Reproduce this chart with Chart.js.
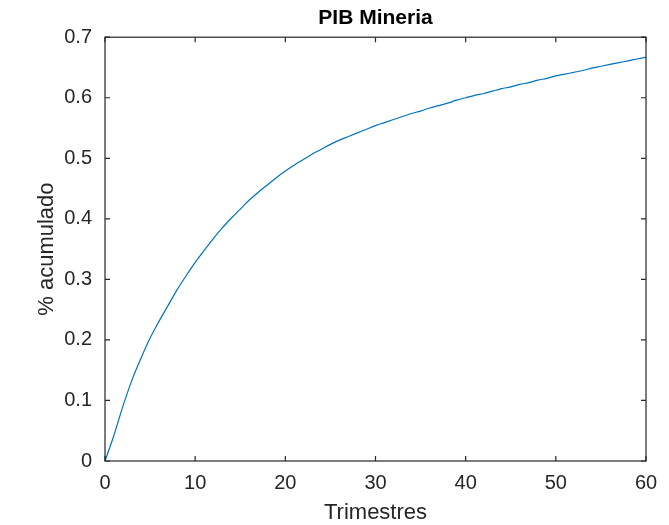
<!DOCTYPE html>
<html>
<head>
<meta charset="utf-8">
<script src="https://cdn.jsdelivr.net/npm/chart.js@4"></script>
<style>
	body { margin: 0; background: #fff; }
</style>
</head>
<body>
<canvas id="graph" width="669" height="525"></canvas>
<script>
// quarters after the shock and the accumulated response
const trimestres = [
	0, 1, 2, 3, 4, 5, 6, 7, 8, 9, 10, 11, 12, 13, 14, 15, 16, 17, 18, 19, 20,
	21, 22, 23, 24, 25, 26, 27, 28, 29, 30, 31, 32, 33, 34, 35, 36, 37, 38, 39, 40,
	41, 42, 43, 44, 45, 46, 47, 48, 49, 50, 51, 52, 53, 54, 55, 56, 57, 58, 59, 60,
];
const acumulado = [
	0, 0.043, 0.091, 0.134, 0.170, 0.203, 0.231, 0.257, 0.283, 0.306, 0.328,
	0.348, 0.367, 0.385, 0.401, 0.416, 0.431, 0.444, 0.456, 0.468, 0.479,
	0.489, 0.498, 0.507, 0.515, 0.523, 0.530, 0.536, 0.542, 0.548, 0.554,
	0.559, 0.564, 0.569, 0.574, 0.578, 0.583, 0.587, 0.591, 0.596, 0.600,
	0.604, 0.607, 0.611, 0.615, 0.618, 0.622, 0.625, 0.629, 0.632, 0.636,
	0.639, 0.642, 0.645, 0.649, 0.652, 0.655, 0.658, 0.661, 0.664, 0.667,
];
const xTicks = [0, 10, 20, 30, 40, 50, 60];
const yTicks = [0, 0.1, 0.2, 0.3, 0.4, 0.5, 0.6, 0.7];

const FONT = "'Liberation Sans', Arial, Helvetica, sans-serif";
const INK = "#262626";

// matlab style box with inward tick marks on all four sides
const boxPlugin = {
	id: "box",
	afterDraw(chart) {
		const { ctx, chartArea: a, scales } = chart;
		const len = 5;
		ctx.save();
		ctx.strokeStyle = INK;
		ctx.lineWidth = 1.2;
		ctx.strokeRect(a.left, a.top, a.right - a.left, a.bottom - a.top);
		ctx.beginPath();
		xTicks.forEach((v) => {
			const px = scales.x.getPixelForValue(v);
			ctx.moveTo(px, a.bottom);
			ctx.lineTo(px, a.bottom - len);
			ctx.moveTo(px, a.top);
			ctx.lineTo(px, a.top + len);
		});
		yTicks.forEach((v) => {
			const py = scales.y.getPixelForValue(v);
			ctx.moveTo(a.left, py);
			ctx.lineTo(a.left + len, py);
			ctx.moveTo(a.right, py);
			ctx.lineTo(a.right - len, py);
		});
		ctx.stroke();
		ctx.restore();
	},
};

const ctx = document.getElementById("graph").getContext("2d");
const lineChart = new Chart(ctx, {
	type: "line",
	data: {
		datasets: [
			{
				label: "PIB Mineria",
				data: trimestres.map((t, i) => ({ x: t, y: acumulado[i] })),
				borderColor: "#0072BD",
				borderWidth: 1.2,
				pointRadius: 0,
				cubicInterpolationMode: "monotone",
				fill: false,
			},
		],
	},
	options: {
		responsive: false,
		animation: false,
		layout: { padding: { left: 0, right: 23, top: 0, bottom: 0 } },
		plugins: {
			legend: { display: false },
			tooltip: { enabled: false },
			title: {
				display: true,
				fullSize: false,
				text: "PIB Mineria",
				color: "#000",
				font: { family: FONT, size: 21, weight: "bold", lineHeight: 1.2 },
				padding: { top: 6, bottom: 6 },
			},
		},
		scales: {
			x: {
				type: "linear",
				min: 0,
				max: 60,
				afterFit: (s) => { s.height = 64; },
				afterBuildTicks: (s) => { s.ticks = xTicks.map((v) => ({ value: v })); },
				grid: { display: false, drawTicks: false },
				border: { display: false },
				ticks: {
					color: INK,
					padding: 10,
					maxRotation: 0,
					font: { family: FONT, size: 20 },
				},
				title: {
					display: true,
					text: "Trimestres",
					color: INK,
					font: { family: FONT, size: 22, lineHeight: 1 },
					padding: { top: 0, bottom: 1 },
				},
			},
			y: {
				type: "linear",
				min: 0,
				max: 0.7,
				afterFit: (s) => { s.width = 105; },
				afterBuildTicks: (s) => { s.ticks = yTicks.map((v) => ({ value: v })); },
				grid: { display: false, drawTicks: false },
				border: { display: false },
				ticks: {
					color: INK,
					padding: 13,
					font: { family: FONT, size: 20 },
					callback: (v) => String(+v.toFixed(1)),
				},
				title: {
					display: true,
					text: "% acumulado",
					color: INK,
					font: { family: FONT, size: 22, lineHeight: 1.2 },
					padding: { top: 34, bottom: 0 },
				},
			},
		},
	},
	plugins: [boxPlugin],
});
</script>
</body>
</html>
